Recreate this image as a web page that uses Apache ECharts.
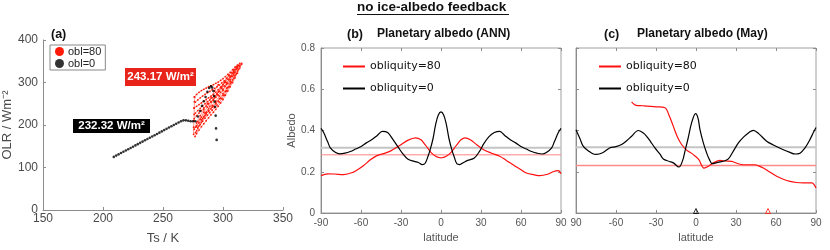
<!DOCTYPE html>
<html><head><meta charset="utf-8">
<script src="https://cdn.jsdelivr.net/npm/echarts@6/dist/echarts.min.js"></script>
<style>html,body{margin:0;padding:0;background:#fff}#c{width:830px;height:250px}</style>
</head><body><div id="c"></div>
<script>
// ---------- Panel (a) data ----------
const obl0Ts  = [209,211,213,215,217,219,221,223,225,227,229,231,233,235,237,239,241,243,245,247,249,251,253,255,257,259,261,263,265,267,269,271,273,275,277,279,281,282.5,284,285.5,287,288.5,290,291,292,292.6,293,293.4,293.9,294.2,294.7];
const obl0Olr = [125,128,131,134,137,140,143,146,149,152,155,158,161,164,167,170,173,176,179,182,185,188,191,194,197,200,203,206,209,211,211,210,209,209,209,220,233,245,256,266,278,287,291,288,280,268,255,243,222,192,165];
const redStrand1 = [[276.7,173],[278,180],[280,188],[282,196],[284,203],[286,210],[288,217],[290,224],[292,230],[294,237],[296,244],[298,252],[300,260],[302,270],[304,280],[306,290],[308,300],[310,311],[312,322],[314,334],[315.5,343]];
const redStrand2 = [[276,190],[278,198],[280,205],[282,212],[284,219],[286,226],[288,232],[290,238],[292,244],[294,250],[296,256],[298,263],[300,270],[302,279],[304,288],[306,297],[308,306],[310,316],[312,327],[314,338],[315.5,345]];
const redStrand3 = [[276,215],[278,222],[280,228],[282,234],[284,240],[286,245],[288,250],[290,255],[292,260],[294,265],[296,270],[298,277],[300,284],[302,291],[304,298],[306,306],[308,315],[310,324],[312,333],[314,341]];
const redStrand4 = [[276,240],[278,244],[280,248],[282,252],[284,256],[286,260],[288,264],[290,268],[292,272],[294,277],[296,283],[298,289],[300,295],[302,301],[304,308],[306,315],[308,322],[310,330],[312,338]];
const redStrand5 = [[276,266],[278,272],[280,277],[282,281],[284,284],[286,287],[288,290],[290,292],[292,295],[294,298],[296,301],[298,305],[300,309],[302,314],[304,319],[306,324],[308,330],[310,336],[312,341],[314,345]];
const redStrand6 = [[275.5,178],[275.5,195],[275.8,210],[276,225],[276,240],[276.2,255],[276.5,266]];
const redStrand7 = [[301,300],[298,288],[295,272],[292,258],[289,244],[286,230],[283,215],[280,198],[278,186]];
const redStrand8 = [[296,295],[293,280],[290,264],[287,250],[284,236],[281,222],[278,205],[277,195]];
const redStrand9 = [[309,326],[306,312],[303,296],[300,281],[297,268],[294,256],[291,246],[288,238],[285,228],[282,218],[279,208]];
const redStrand10 = [[277,182],[279,193],[281,201],[283,209],[285,216],[287,223],[289,229],[291,235],[293,241],[295,247],[297,254],[299,262],[301,270],[303,280],[305,290],[307,300],[309,310],[311,320],[313,331]];
const redStrand11 = [[277,228],[279,234],[281,239],[283,245],[285,250],[287,255],[289,259],[291,264],[293,268],[295,273],[297,279],[299,286],[301,292],[303,299],[305,307],[307,315],[309,323],[311,332],[313,340]];
const redStrand12 = [[277,254],[279,259],[281,264],[283,268],[285,272],[287,276],[289,279],[291,283],[293,286],[295,290],[297,294],[299,299],[301,304],[303,310],[305,316],[307,323],[309,330],[311,337]];
const redStrand13 = [[305,318],[302,303],[299,290],[296,278],[293,266],[290,254],[287,242],[284,230],[281,214],[278,196]];
const redStrand14 = [[312,336],[309,318],[306,302],[303,287],[300,274],[297,262],[294,252],[291,242],[288,233],[285,222],[282,206]];

// ---------- Panel (b) data: annual-mean planetary albedo ----------
const latAnnBlack = [-90,-88,-85,-83,-79,-76,-72,-68,-64,-60,-56,-52,-48,-44,-40,-36,-32,-29,-25,-20,-17,-14,-12,-10,-8,-6,-4,-2,0,2,4,6,8,10,12,14,17,20,25,29,32,36,40,44,48,52,56,60,64,68,72,76,79,83,85,88,90];
const albAnnBlack = [0.41,0.39,0.345,0.316,0.293,0.287,0.29,0.298,0.31,0.322,0.34,0.355,0.375,0.396,0.39,0.356,0.318,0.29,0.262,0.25,0.245,0.235,0.24,0.27,0.31,0.36,0.43,0.475,0.49,0.475,0.43,0.36,0.31,0.27,0.238,0.235,0.245,0.255,0.267,0.3,0.335,0.37,0.39,0.396,0.375,0.355,0.34,0.322,0.31,0.298,0.29,0.286,0.293,0.316,0.345,0.39,0.41];
const latAnnRed = [-90,-85,-80,-73,-66,-62,-58,-53,-48,-42,-38,-31,-25,-19,-15,-13,-10,-7,-4,-2,0,2,4,7,10,13,15,18,22,27,32,38,44,49,54,60,64,70,74,80,84,88,90];
const albAnnRed = [0.181,0.19,0.189,0.186,0.197,0.212,0.23,0.258,0.278,0.29,0.3,0.327,0.352,0.364,0.355,0.34,0.315,0.29,0.275,0.27,0.267,0.27,0.275,0.29,0.315,0.34,0.355,0.364,0.355,0.33,0.307,0.29,0.275,0.255,0.234,0.21,0.194,0.185,0.181,0.188,0.2,0.205,0.19];
const annMeanBlack = 0.316;
const annMeanRed = 0.282;

// ---------- Panel (c) data: May planetary albedo ----------
const latMayBlack = [-90,-87,-84.5,-80,-77,-74.8,-70,-64.5,-60,-55.8,-52,-48.3,-43.3,-40,-37,-34,-30.8,-27,-24.5,-20,-17,-12.8,-10,-8.3,-6,-3.3,-0.3,1.5,3,5.5,8,10,12.3,15,18,21,24.3,28,31.8,36,40,43,47,53,58,65.5,70,74.3,78,81.8,85,88,90];
const albMayBlack = [0.404,0.36,0.323,0.298,0.286,0.284,0.292,0.316,0.322,0.332,0.35,0.372,0.4,0.39,0.372,0.345,0.316,0.285,0.262,0.25,0.243,0.223,0.255,0.299,0.36,0.437,0.482,0.46,0.404,0.34,0.291,0.26,0.239,0.243,0.248,0.252,0.262,0.3,0.34,0.37,0.392,0.401,0.385,0.348,0.33,0.307,0.295,0.286,0.29,0.316,0.35,0.39,0.415];
const latMayRed = [-48.3,-46,-44.8,-40,-37,-30,-23.3,-20,-17,-14,-10.8,-7,-2,2,6,9,13,18,22,26.8,31,35.5,40,44.3,47,50.5,55,60.5,65,70.5,75,80.5,86.8,90];
const albMayRed = [0.539,0.525,0.522,0.52,0.518,0.515,0.51,0.47,0.42,0.37,0.332,0.305,0.283,0.26,0.218,0.225,0.243,0.255,0.252,0.25,0.24,0.234,0.234,0.234,0.228,0.218,0.2,0.178,0.165,0.153,0.148,0.146,0.146,0.121];
const mayMeanBlack = 0.319;
const mayMeanRed = 0.23;
const mayMarkBlackLat = 0;
const mayMarkRedLat = 54;

// ---------- tick labels ----------
const xTicksA = ['150','200','250','300','350'];
const yTicksA = ['0','100','200','300','400'];
const latTicksB = ['-90','-60','-30','0','30','60','90'];
const latTicksC = ['90','-60','-30','0','30','60','90'];
const albTicks = ['0','0.2','0.4','0.6','0.8'];

const zip = (a, b) => a.map((v, i) => [v, b[i]]);
const RED = '#ff1a0a';
const FONT = '"Liberation Sans", Arial, sans-serif';
const axisGray = '#8c8c8c';
const labGray = '#4a4a4a';

const chart = echarts.init(document.getElementById('c'), null, {renderer: 'canvas'});

function latAxis(gridIndex, labels, showLabels) {
  return {
    type: 'value', gridIndex, min: -90, max: 90, interval: 30, position: 'bottom',
    name: showLabels ? 'latitude' : '', nameLocation: 'middle', nameGap: 19,
    nameTextStyle: {fontFamily: FONT, fontSize: 11, color: '#555'},
    axisLine: {show: true, onZero: false, lineStyle: {color: axisGray}},
    axisTick: {show: true, inside: true, length: 3, lineStyle: {color: axisGray}},
    axisLabel: {show: showLabels, fontFamily: FONT, fontSize: 10, color: '#555', margin: 5,
      formatter: (v) => labels[Math.round((v + 90) / 30)]},
    splitLine: {show: false}
  };
}
function mirrorX(gridIndex) {
  return {type: 'value', gridIndex, position: 'top', min: -90, max: 90, interval: 30,
    axisLine: {show: false, onZero: false}, axisTick: {show: true, inside: true, length: 3, lineStyle: {color: axisGray}},
    axisLabel: {show: false}, splitLine: {show: false}};
}
function albAxis(gridIndex, showLabels) {
  return {
    type: 'value', gridIndex, min: 0, max: 0.8, interval: 0.2, position: 'left',
    name: showLabels ? 'Albedo' : '', nameLocation: 'middle', nameGap: 22,
    nameTextStyle: {fontFamily: FONT, fontSize: 11, color: '#555'},
    axisLine: {show: true, onZero: false, lineStyle: {color: axisGray}},
    axisTick: {show: true, inside: true, length: 3, lineStyle: {color: axisGray}},
    axisLabel: {show: showLabels, fontFamily: FONT, fontSize: 10, color: '#555', margin: 6,
      formatter: (v) => albTicks[Math.round(v / 0.2)]},
    splitLine: {show: false}
  };
}
function mirrorY(gridIndex) {
  return {type: 'value', gridIndex, position: 'right', min: 0, max: 0.8, interval: 0.2,
    axisLine: {show: false, onZero: false}, axisTick: {show: true, inside: true, length: 3, lineStyle: {color: axisGray}},
    axisLabel: {show: false}, splitLine: {show: false}};
}

const redStrands = [redStrand1, redStrand2, redStrand3, redStrand4, redStrand5, redStrand6, redStrand7, redStrand8, redStrand9, redStrand10, redStrand11, redStrand12, redStrand13, redStrand14];
const series = [];
redStrands.forEach((s) => {
  series.push({type: 'line', name: 'obl=80', xAxisIndex: 0, yAxisIndex: 0, data: s,
    showSymbol: true, symbol: 'circle', symbolSize: 1.8, itemStyle: {color: RED},
    lineStyle: {color: RED, width: 0.6, opacity: 0.75}, silent: true, z: 2});
});
series.push({type: 'scatter', name: 'obl=0', xAxisIndex: 0, yAxisIndex: 0, data: zip(obl0Ts, obl0Olr),
  symbolSize: 2.6, itemStyle: {color: '#000'}, silent: true, z: 3});

function lineSeries(name, xi, yi, data, color, width, z) {
  return {type: 'line', name, xAxisIndex: xi, yAxisIndex: yi, data, showSymbol: false, symbol: 'none',
    smooth: 0.35, lineStyle: {color, width}, itemStyle: {color}, silent: true, z: z || 3};
}
// panel b
series.push(lineSeries('meanB0', 1, 1, [[-90, annMeanBlack], [90, annMeanBlack]], '#c4c4c4', 2, 1));
series.push(lineSeries('meanB80', 1, 1, [[-90, annMeanRed], [90, annMeanRed]], '#ff8080', 1, 1));
series.push(lineSeries('obliquity=80', 1, 1, zip(latAnnRed, albAnnRed), '#ff1010', 1.2));
series.push(lineSeries('obliquity=0', 1, 1, zip(latAnnBlack, albAnnBlack), '#000', 1.2));
// panel c (axes 3 = bottom lat / left albedo of grid 2)
series.push(lineSeries('meanC0', 3, 3, [[-90, mayMeanBlack], [90, mayMeanBlack]], '#c4c4c4', 2, 1));
series.push(lineSeries('meanC80', 3, 3, [[-90, mayMeanRed], [90, mayMeanRed]], '#ff8a8a', 1.4, 1));
series.push(lineSeries('obliquity=80', 3, 3, zip(latMayRed, albMayRed), '#ff1010', 1.2));
series.push(lineSeries('obliquity=0', 3, 3, zip(latMayBlack, albMayBlack), '#000', 1.2));
series.push({type: 'scatter', name: 'markB', xAxisIndex: 3, yAxisIndex: 3, data: [[mayMarkBlackLat, 0]],
  symbol: 'triangle', symbolSize: 5, symbolOffset: [0, -2], itemStyle: {color: 'transparent', borderColor: '#000', borderWidth: 1}, silent: true, z: 5});
series.push({type: 'scatter', name: 'markR', xAxisIndex: 3, yAxisIndex: 3, data: [[mayMarkRedLat, 0]],
  symbol: 'triangle', symbolSize: 5, symbolOffset: [0, -2], itemStyle: {color: 'transparent', borderColor: RED, borderWidth: 1}, silent: true, z: 5});

const option = {
  animation: false,
  textStyle: {fontFamily: FONT},
  grid: [
    {left: 43, top: 40, width: 240, height: 176},
    {left: 321, top: 48, width: 240, height: 165, show: true, borderColor: '#a0a0a0', borderWidth: 1},
    {left: 576, top: 48, width: 240, height: 165, show: true, borderColor: '#a0a0a0', borderWidth: 1}
  ],
  xAxis: [
    {type: 'value', gridIndex: 0, min: 150, max: 350, interval: 50, position: 'bottom',
      name: 'Ts / K', nameLocation: 'middle', nameGap: 22,
      nameTextStyle: {fontFamily: FONT, fontSize: 13, color: labGray},
      axisLine: {show: true, onZero: false, lineStyle: {color: axisGray}},
      axisTick: {show: true, inside: true, length: 3, lineStyle: {color: axisGray}},
      axisLabel: {fontFamily: FONT, fontSize: 12, color: labGray, margin: 3,
        formatter: (v) => xTicksA[Math.round((v - 150) / 50)]},
      splitLine: {show: false}},
    latAxis(1, latTicksB, true),
    mirrorX(1),
    latAxis(2, latTicksC, true),
    mirrorX(2)
  ],
  yAxis: [
    {type: 'value', gridIndex: 0, min: 0, max: 400, interval: 100, position: 'left',
      name: 'OLR / Wm\u207B\u00B2', nameLocation: 'middle', nameGap: 25,
      nameTextStyle: {fontFamily: FONT, fontSize: 13, color: labGray},
      axisLine: {show: true, onZero: false, lineStyle: {color: axisGray}},
      axisTick: {show: true, inside: true, length: 3, lineStyle: {color: axisGray}},
      axisLabel: {fontFamily: FONT, fontSize: 12, color: labGray, margin: 5,
        formatter: (v) => yTicksA[Math.round(v / 100)]},
      splitLine: {show: false}},
    albAxis(1, true),
    mirrorY(1),
    albAxis(2, false),
    mirrorY(2)
  ],
  legend: [
    {data: ['obl=80', 'obl=0'], orient: 'vertical', left: 50, top: 45, icon: 'circle',
      itemWidth: 9, itemHeight: 9, itemGap: 1, padding: [1, 4, 1, 5],
      borderColor: '#888', borderWidth: 1, selectedMode: false,
      textStyle: {fontFamily: FONT, fontSize: 11, color: '#222', padding: [0, 0, 0, -1]}},
    {data: ['obliquity=80', 'obliquity=0'], orient: 'vertical', left: 338, top: 55, icon: 'rect',
      itemWidth: 22, itemHeight: 2, itemGap: 9, selectedMode: false,
      textStyle: {fontFamily: '"DejaVu Sans", sans-serif', fontSize: 11, color: '#111', lineHeight: 13}},
    {data: ['obliquity=80', 'obliquity=0'], orient: 'vertical', left: 594, top: 55, icon: 'rect',
      itemWidth: 22, itemHeight: 2, itemGap: 9, selectedMode: false,
      textStyle: {fontFamily: '"DejaVu Sans", sans-serif', fontSize: 11, color: '#111', lineHeight: 13}}
  ],
  graphic: [
    {type: 'text', left: 357, top: 0, style: {text: 'no ice-albedo feedback', font: 'bold 13.5px ' + FONT, fill: '#111'}},
    {type: 'line', shape: {x1: 357, y1: 14.5, x2: 509, y2: 14.5}, style: {stroke: '#111', lineWidth: 1}},
    {type: 'text', left: 51, top: 28, style: {text: '(a)', font: 'bold 12.5px ' + FONT, fill: '#111'}},
    {type: 'text', left: 347, top: 28, style: {text: '(b)', font: 'bold 12.5px ' + FONT, fill: '#111'}},
    {type: 'text', left: 377, top: 28, style: {text: 'Planetary albedo (ANN)', font: 'bold 12px ' + FONT, fill: '#111'}},
    {type: 'text', left: 604, top: 28, style: {text: '(c)', font: 'bold 12.5px ' + FONT, fill: '#111'}},
    {type: 'text', left: 637, top: 28, style: {text: 'Planetary albedo (May)', font: 'bold 12px ' + FONT, fill: '#111'}},
    {type: 'rect', shape: {x: 125, y: 68, width: 71, height: 18}, style: {fill: '#e8241a'}, z: 10},
    {type: 'text', x: 160.5, y: 77, z: 11, style: {text: '243.17 W/m\u00B2', font: 'bold 11.5px ' + FONT, fill: '#fff', align: 'center', verticalAlign: 'middle'}},
    {type: 'rect', shape: {x: 73, y: 119, width: 77, height: 14}, style: {fill: '#000'}, z: 10},
    {type: 'text', x: 111.5, y: 126, z: 11, style: {text: '232.32 W/m\u00B2', font: 'bold 11.5px ' + FONT, fill: '#fff', align: 'center', verticalAlign: 'middle'}}
  ],
  series
};
chart.setOption(option);
</script>
</body></html>
